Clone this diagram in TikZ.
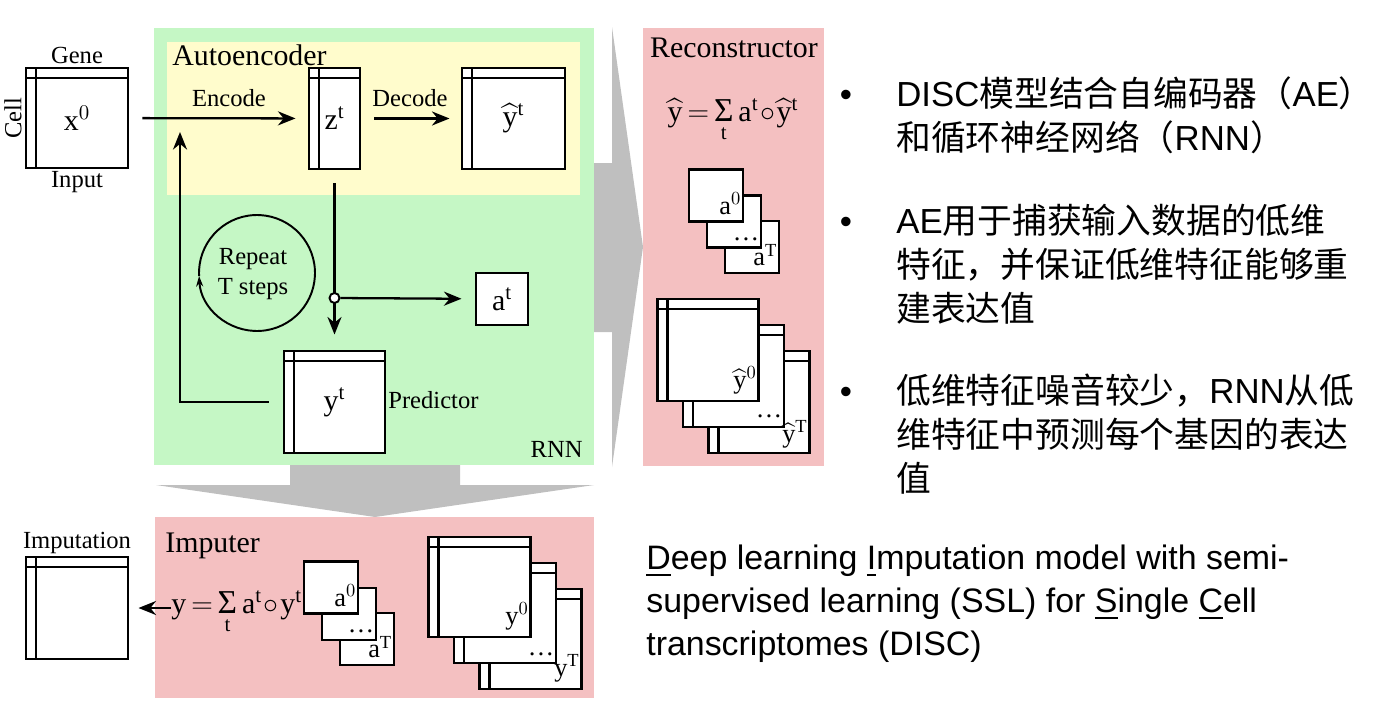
\documentclass[tikz,border=0pt]{standalone}
\usepackage{fix-cm}
\usepackage{exscale}
\usepackage{fontspec}
\setmainfont{Liberation Serif}
\newfontfamily\arial{Liberation Sans}
\newfontfamily\cjk{Noto Sans CJK SC}
\usetikzlibrary{arrows.meta}
\usetikzlibrary{calc}
\definecolor{rnngreen}{RGB}{197,247,197}
\definecolor{aeyellow}{RGB}{255,252,204}
\definecolor{outpink}{RGB}{244,192,193}
\colorlet{blockgrey}{black!25}
\def\px{0.02cm}
\def\inw{0.2cm}
\def\lab{\fontsize{14}{17}\selectfont}
\def\ttl{\fontsize{17}{20}\selectfont}
\def\mlab{\fontsize{17}{20}\selectfont}
\def\slab{\fontsize{15}{18}\selectfont}
\def\bul{\fontsize{19.8}{24.9}\selectfont}
\def\tight{\thickmuskip=3mu\medmuskip=1mu}
\def\yh{\widehat{\mathrm{y}}}
\def\sumt{\mathop{\hbox{\fontsize{19}{20}\selectfont Σ}}\limits_{\mathrm{t}}}
\newcommand{\eng}[1]{{\arial #1}}

\begin{document}
\begin{tikzpicture}[
    x=\px, y=\px,
    every node/.style={font=\lab, inner sep=0pt},
    mtx/.style 2 args={draw, line width=1.7pt, fill=white,
        minimum width=#1*\px, minimum height=#2*\px, font=\mlab,
        path picture={
            \draw [line width=1.3pt]
                ([xshift=\inw]path picture bounding box.north west) --
                ([xshift=\inw]path picture bounding box.south west);
            \draw [line width=1.3pt]
                ([yshift=-\inw]path picture bounding box.north west) --
                ([yshift=-\inw]path picture bounding box.north east);
        }},
    sq/.style={draw, line width=1.7pt, fill=white,
        minimum width=54*\px, minimum height=52*\px, font=\slab},
    tag/.style={anchor=south east, font=\slab},
    arr/.style={line width=1.3pt, -{Stealth[length=10pt,width=8pt]}}
]
\useasboundingbox (0,0) rectangle (1384,-710);

% grey block arrows
\fill [blockgrey] (580,-163) -- (612,-163) -- (612,-27) -- (643,-247) --
    (612,-467) -- (612,-332) -- (580,-332) -- cycle;
\fill [blockgrey] (290,-460) -- (460,-460) -- (460,-485) -- (594,-485) --
    (375,-517) -- (156,-485) -- (290,-485) -- cycle;

\fill [rnngreen] (154,-28) rectangle (594,-465);
\fill [aeyellow] (167,-42) rectangle (580,-195);
\fill [outpink] (643,-28) rectangle (824,-466);
\fill [outpink] (155,-517) rectangle (594,-698);

\node [anchor=base west, font=\ttl] (aetitle) at (172,-65) {Autoencoder};
\node [anchor=base, font=\ttl] (rctitle) at (734,-57) {Reconstructor};
\node [anchor=base west, font=\ttl] (imtitle) at (165,-552) {Imputer};
\node [anchor=base east] (rnntitle) at (583,-457) {RNN};

% input and autoencoder
\node [mtx={102}{100}] (inp) at (77,-118) {$\mathrm{x}^{0}$};
\node [anchor=base] (gene) at (77,-63) {Gene};
\node [anchor=base] (input) at (77,-187) {Input};
\node [rotate=90] (cell) at (13,-118) {Cell};

\node [mtx={51}{101}] (z) at (334.5,-118.5) {$\mathrm{z}^{\mathrm{t}}$};
\node [mtx={103}{101}] (yh) at (513.5,-118.5) {$\yh^{\mathrm{t}}$};

\node [anchor=base] (enc) at (229,-106) {Encode};
\node [anchor=base] (dec) at (410,-106) {Decode};

\draw [arr,shorten <=0.26cm,shorten >=0.24cm] (inp) -- (z);
\draw [arr,shorten <=0.26cm,shorten >=0.22cm] (z) -- (yh);

% predictor
\node [mtx={101}{102}] (yt) at (334.5,-402) {$\mathrm{y}^{\mathrm{t}}$};
\node [anchor=base west] (pred) at (388,-408) {Predictor};
\node [sq, minimum width=52*\px, font=\mlab] (at) at (502,-299)
    {$\mathrm{a}^{\mathrm{t}}$};

\coordinate (fb) at (180,-132);
\draw [arr,shorten <=0.26cm,shorten >=0.3cm] (z) -- (yt);
\node [circle, draw, line width=1.1pt, fill=white,
    minimum size=0.2cm] (jn) at (334.5,-298) {};
\draw [arr,shorten >=0.26cm] (jn) -- (at);
\draw [arr] ([xshift=-0.28cm]yt.west) -| (fb);

\node [align=center] (rep) at (253,-274) {Repeat\\T steps};
\draw [line width=1.1pt, -{Stealth[length=6pt,width=4pt]}]
    ([shift={(4,1)}]rep.center) ++(183:1.16cm)
    arc [start angle=183, end angle=-177, radius=1.16cm];

% reconstructor
\node [anchor=base, font=\mlab] (rform) at (733,-121)
    {\tight$\yh=\sumt\mathrm{a}^{\mathrm{t}}\circ\yh^{\mathrm{t}}$};

\node [sq] (ra3) at (752,-247) {};
\node [sq] (ra2) at (734,-221.5) {};
\node [sq] (ra1) at (716,-195.5) {};
\node [tag] at ([shift={(-3,8)}]ra1.south east) {$\mathrm{a}^{0}$};
\node [tag] at ([shift={(-3,8)}]ra2.south east) {\ldots};
\node [tag] at ([shift={(-3,8)}]ra3.south east) {$\mathrm{a}^{\mathrm{T}}$};

\node [mtx={101}{102}] (ry3) at (759,-402) {};
\node [mtx={101}{102}] (ry2) at (733.5,-376) {};
\node [mtx={101}{102}] (ry1) at (708,-350) {};
\node [tag] at ([shift={(-3,8)}]ry1.south east) {$\yh^{0}$};
\node [tag] at ([shift={(-3,10)}]ry2.south east) {\ldots};
\node [tag] at ([shift={(-3,6)}]ry3.south east) {$\yh^{\mathrm{T}}$};

% imputer
\node [mtx={102}{102}] (imp) at (77,-608) {};
\node [anchor=base] (imputation) at (77,-548) {Imputation};
\node [anchor=base west, font=\mlab] (iform) at (171,-613)
    {\tight$\mathrm{y}=\sumt\mathrm{a}^{\mathrm{t}}\circ\mathrm{y}^{\mathrm{t}}$};
\draw [arr] (iform.west |- imp.east) -- ([xshift=0.18cm]imp.east);

\node [sq] (ia3) at (367,-639) {};
\node [sq] (ia2) at (349,-614) {};
\node [sq] (ia1) at (331,-587.5) {};
\node [tag] at ([shift={(-3,8)}]ia1.south east) {$\mathrm{a}^{0}$};
\node [tag] at ([shift={(-3,8)}]ia2.south east) {\ldots};
\node [tag] at ([shift={(-3,8)}]ia3.south east) {$\mathrm{a}^{\mathrm{T}}$};

\node [mtx={102}{100}] (iy3) at (530.5,-639) {};
\node [mtx={102}{100}] (iy2) at (505,-613) {};
\node [mtx={102}{100}] (iy1) at (479.5,-587) {};
\node [tag] at ([shift={(-3,8)}]iy1.south east) {$\mathrm{y}^{0}$};
\node [tag] at ([shift={(-3,8)}]iy2.south east) {\ldots};
\node [tag] at ([shift={(-3,8)}]iy3.south east) {$\mathrm{y}^{\mathrm{T}}$};

% text on the right
\node [anchor=base, font=\arial\bul] (b1) at (846,-106) {•};
\node [anchor=base, font=\arial\bul] (b2) at (846,-233) {•};
\node [anchor=base, font=\arial\bul] (b3) at (846,-403) {•};

\node [anchor=base west, align=left, font=\cjk\bul] (t1) at (896,-150)
    {\eng{DISC}模型结合自编码器（\eng{AE}）\\和循环神经网络（\eng{RNN}）};
\node [anchor=base west, align=left, font=\cjk\bul] (t2) at (896,-321)
    {\eng{AE}用于捕获输入数据的低维\\特征，并保证低维特征能够重\\建表达值};
\node [anchor=base west, align=left, font=\cjk\bul] (t3) at (896,-491)
    {低维特征噪音较少，\eng{RNN}从低\\维特征中预测每个基因的表达\\值};

\node [anchor=base west, align=left, font=\arial\fontsize{19.3}{24.2}\selectfont]
    (disc) at (646,-655)
    {\underline{D}eep learning \underline{I}mputation model with semi-\\%
     supervised learning (SSL) for \underline{S}ingle \underline{C}ell\\%
     transcriptomes (DISC)};

\end{tikzpicture}
\end{document}
